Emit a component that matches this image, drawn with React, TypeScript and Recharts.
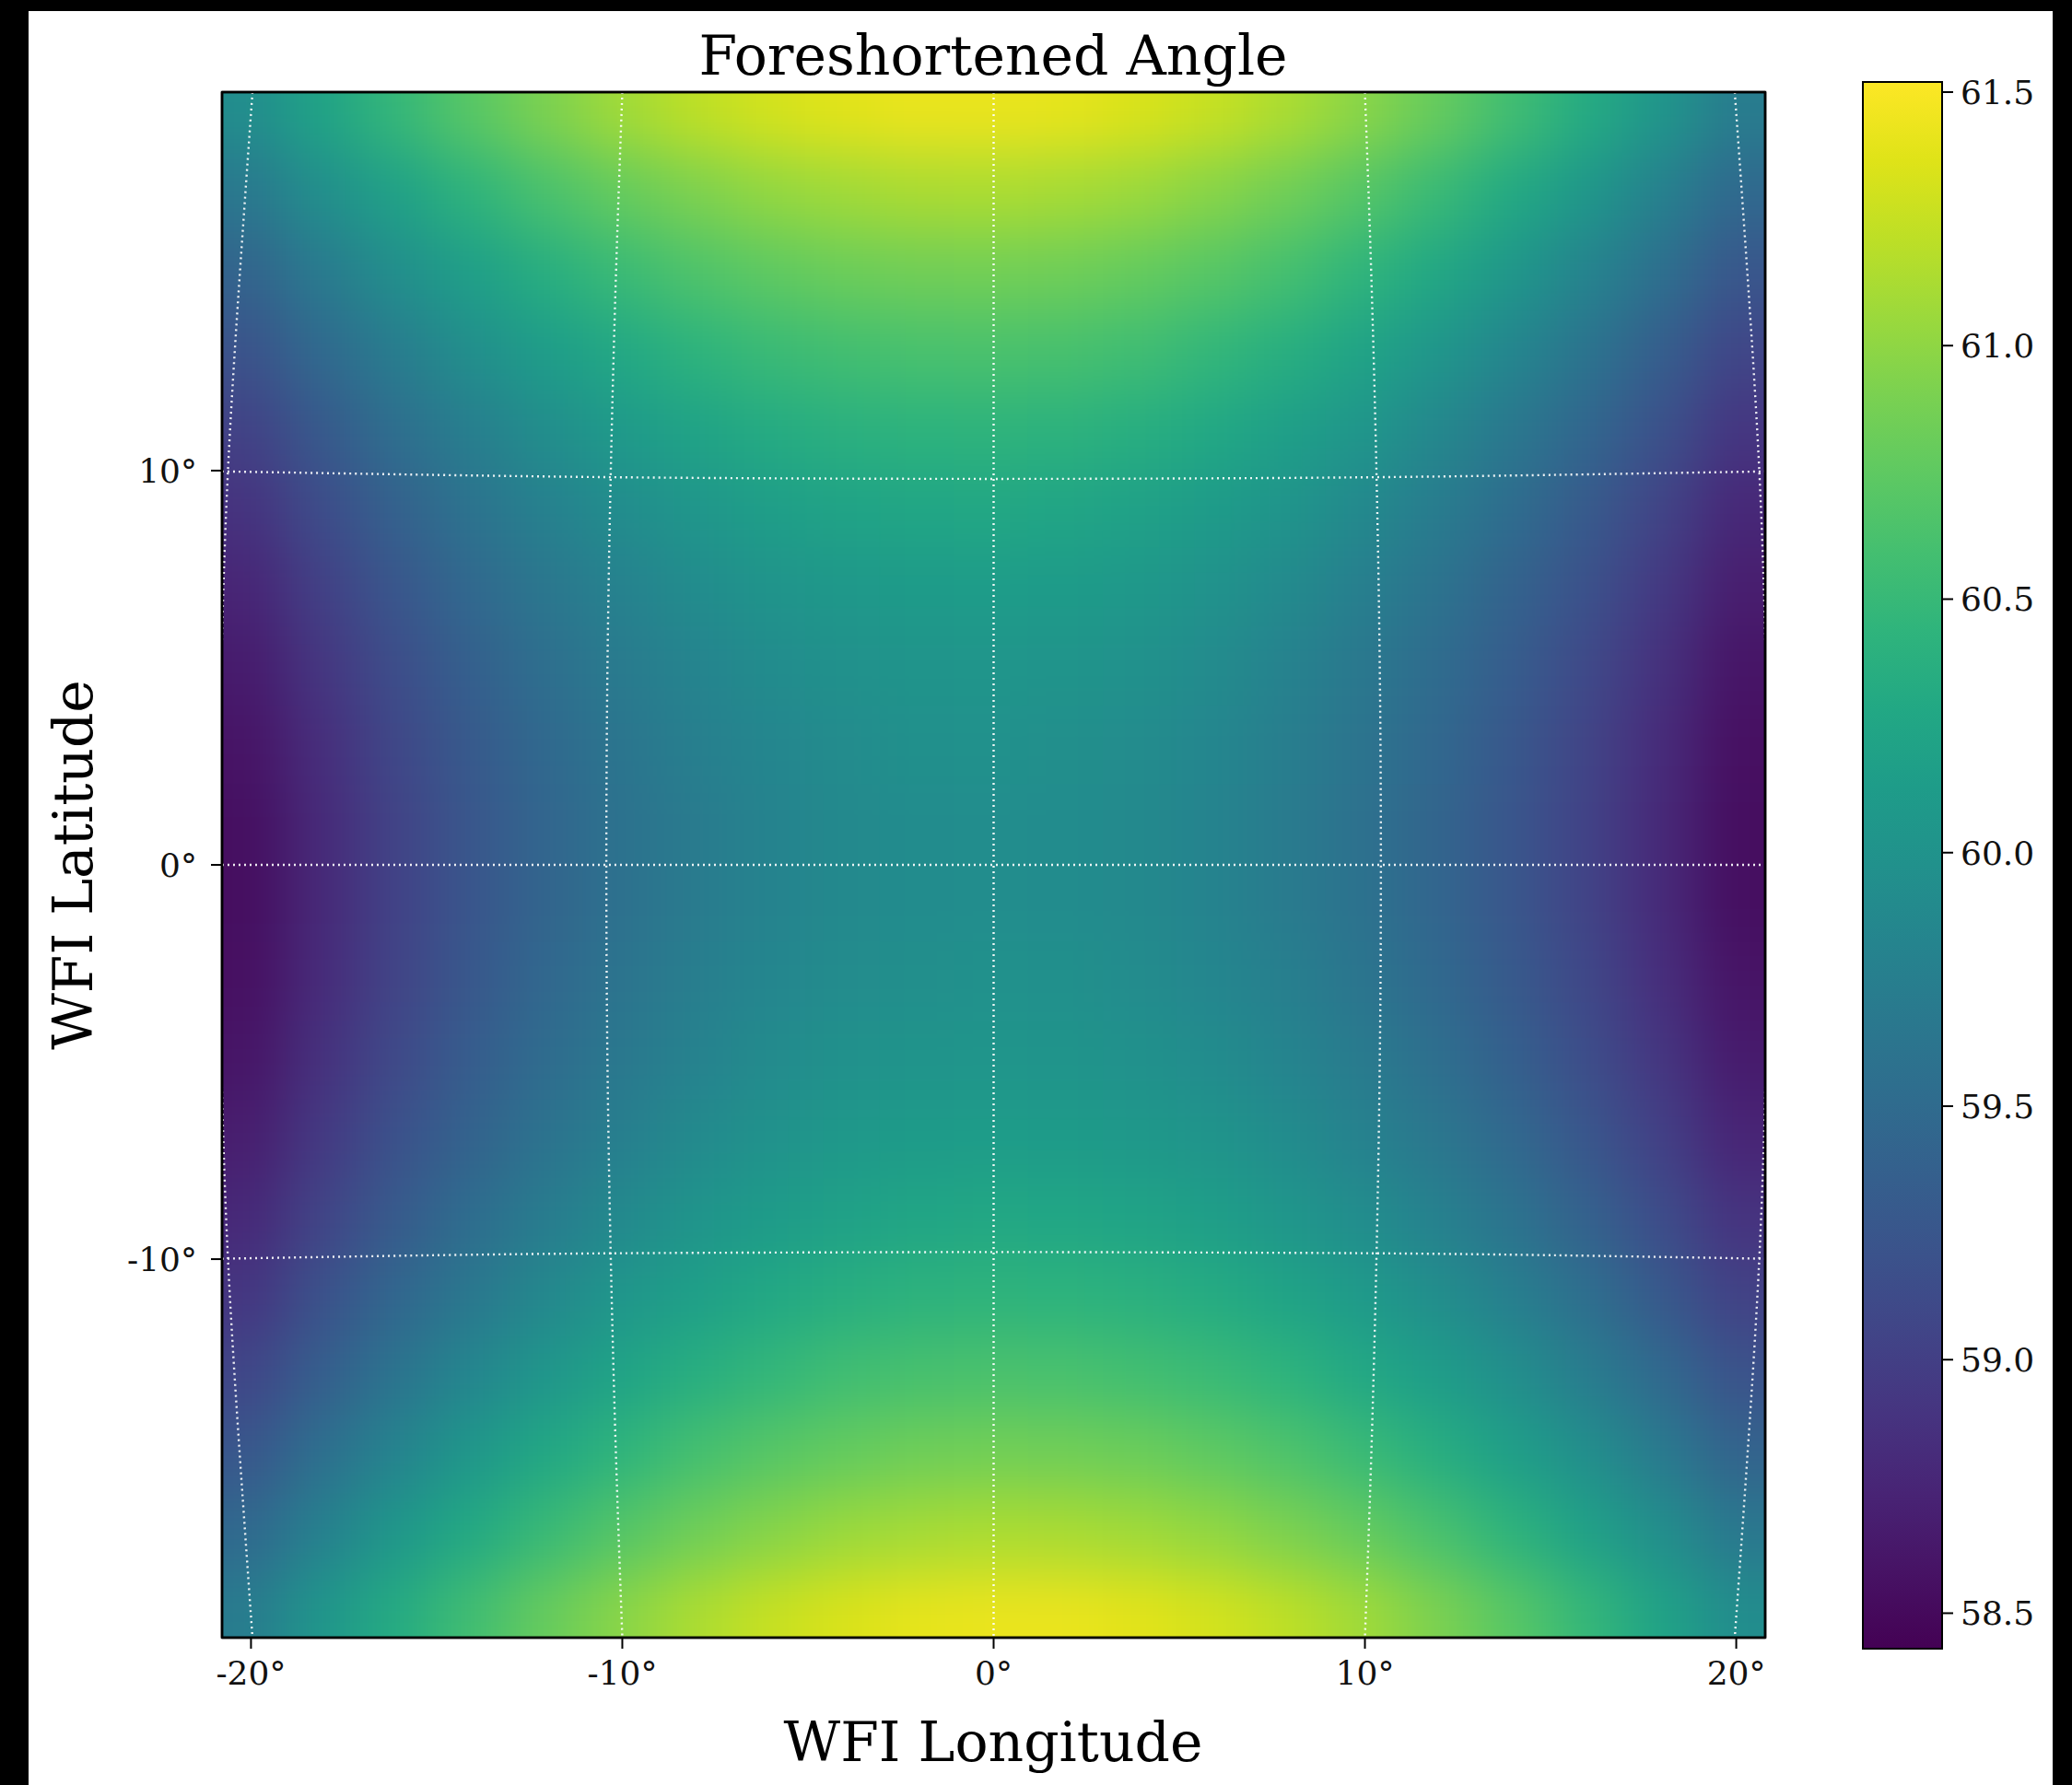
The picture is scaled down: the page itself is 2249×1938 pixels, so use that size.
import React from 'react';
import { ComposedChart, Scatter, Line, XAxis, YAxis, ReferenceArea } from 'recharts';

// ---------------- data ----------------
const X_DOMAIN: [number, number] = [-20.78, 20.78];
const Y_DOMAIN: [number, number] = [-19.6, 19.6];
const X_TICKS = [-20, -10, 0, 10, 20];
const Y_TICKS = [-10, 0, 10];
const CB_DOMAIN: [number, number] = [58.43, 61.52];
const CB_TICKS = [58.5, 59.0, 59.5, 60.0, 60.5, 61.0, 61.5];

const X_COLS = [-20, -18, -16, -14, -12, -10, -8, -6, -4, -2, 0, 2, 4, 6, 8, 10, 12, 14, 16, 18, 20];
const Y_ROWS = [19, 17, 15, 13, 11, 9, 7, 5, 3, 1, -1, -3, -5, -7, -9, -11, -13, -15, -17, -19];

const ROW_P19 = [59.93, 60.22, 60.48, 60.71, 60.91, 61.08, 61.21, 61.31, 61.38, 61.42, 61.42, 61.40, 61.34, 61.25, 61.13, 60.97, 60.79, 60.57, 60.32, 60.04, 59.72];
const ROW_P17 = [59.66, 59.95, 60.20, 60.43, 60.62, 60.78, 60.91, 61.01, 61.08, 61.12, 61.13, 61.10, 61.05, 60.96, 60.84, 60.69, 60.51, 60.30, 60.06, 59.78, 59.48];
const ROW_P15 = [59.42, 59.70, 59.95, 60.17, 60.36, 60.52, 60.65, 60.75, 60.82, 60.85, 60.86, 60.84, 60.78, 60.70, 60.59, 60.44, 60.27, 60.06, 59.82, 59.56, 59.26];
const ROW_P13 = [59.21, 59.49, 59.73, 59.95, 60.14, 60.29, 60.42, 60.52, 60.58, 60.62, 60.63, 60.61, 60.56, 60.47, 60.36, 60.22, 60.05, 59.85, 59.62, 59.36, 59.07];
const ROW_P11 = [59.03, 59.30, 59.55, 59.76, 59.94, 60.10, 60.22, 60.32, 60.39, 60.42, 60.43, 60.41, 60.36, 60.28, 60.17, 60.04, 59.87, 59.67, 59.45, 59.20, 58.91];
const ROW_P9 = [58.88, 59.15, 59.39, 59.60, 59.78, 59.93, 60.05, 60.15, 60.22, 60.26, 60.27, 60.25, 60.20, 60.12, 60.02, 59.88, 59.72, 59.53, 59.31, 59.06, 58.78];
const ROW_P7 = [58.75, 59.02, 59.26, 59.47, 59.65, 59.80, 59.92, 60.02, 60.08, 60.12, 60.13, 60.12, 60.07, 59.99, 59.89, 59.76, 59.60, 59.41, 59.20, 58.95, 58.68];
const ROW_P5 = [58.66, 58.92, 59.16, 59.37, 59.55, 59.70, 59.82, 59.92, 59.98, 60.02, 60.03, 60.02, 59.97, 59.90, 59.80, 59.67, 59.51, 59.33, 59.11, 58.87, 58.60];
const ROW_P3 = [58.59, 58.85, 59.09, 59.30, 59.48, 59.63, 59.75, 59.85, 59.91, 59.96, 59.97, 59.95, 59.91, 59.84, 59.74, 59.61, 59.46, 59.27, 59.06, 58.82, 58.56];
const ROW_P1 = [58.55, 58.81, 59.05, 59.26, 59.44, 59.59, 59.71, 59.81, 59.88, 59.92, 59.93, 59.92, 59.88, 59.81, 59.71, 59.58, 59.43, 59.25, 59.04, 58.80, 58.54];
const ROW_M1 = [58.54, 58.80, 59.04, 59.25, 59.43, 59.58, 59.71, 59.81, 59.88, 59.92, 59.93, 59.92, 59.88, 59.81, 59.71, 59.59, 59.44, 59.26, 59.05, 58.81, 58.55];
const ROW_M3 = [58.56, 58.82, 59.06, 59.27, 59.46, 59.61, 59.74, 59.84, 59.91, 59.95, 59.97, 59.96, 59.91, 59.85, 59.75, 59.63, 59.48, 59.30, 59.09, 58.85, 58.59];
const ROW_M5 = [58.60, 58.87, 59.11, 59.33, 59.51, 59.67, 59.80, 59.90, 59.97, 60.02, 60.03, 60.02, 59.98, 59.92, 59.82, 59.70, 59.55, 59.37, 59.16, 58.92, 58.66];
const ROW_M7 = [58.68, 58.95, 59.20, 59.41, 59.60, 59.76, 59.89, 59.99, 60.07, 60.12, 60.13, 60.12, 60.08, 60.02, 59.92, 59.80, 59.65, 59.47, 59.26, 59.02, 58.75];
const ROW_M9 = [58.78, 59.06, 59.31, 59.53, 59.72, 59.88, 60.02, 60.12, 60.20, 60.25, 60.27, 60.26, 60.22, 60.15, 60.05, 59.93, 59.78, 59.60, 59.39, 59.15, 58.88];
const ROW_M11 = [58.91, 59.20, 59.45, 59.67, 59.87, 60.04, 60.17, 60.28, 60.36, 60.41, 60.43, 60.42, 60.39, 60.32, 60.22, 60.10, 59.94, 59.76, 59.55, 59.30, 59.03];
const ROW_M13 = [59.07, 59.36, 59.62, 59.85, 60.05, 60.22, 60.36, 60.47, 60.56, 60.61, 60.63, 60.62, 60.58, 60.52, 60.42, 60.29, 60.14, 59.95, 59.73, 59.49, 59.21];
const ROW_M15 = [59.26, 59.56, 59.82, 60.06, 60.27, 60.44, 60.59, 60.70, 60.78, 60.84, 60.86, 60.85, 60.82, 60.75, 60.65, 60.52, 60.36, 60.17, 59.95, 59.70, 59.42];
const ROW_M17 = [59.48, 59.78, 60.06, 60.30, 60.51, 60.69, 60.84, 60.96, 61.05, 61.10, 61.13, 61.12, 61.08, 61.01, 60.91, 60.78, 60.62, 60.43, 60.20, 59.95, 59.66];
const ROW_M19 = [59.72, 60.04, 60.32, 60.57, 60.79, 60.97, 61.13, 61.25, 61.34, 61.40, 61.42, 61.42, 61.38, 61.31, 61.21, 61.08, 60.91, 60.71, 60.48, 60.22, 59.93];

const HEAT_ROWS = [
  ROW_P19, ROW_P17, ROW_P15, ROW_P13, ROW_P11, ROW_P9, ROW_P7, ROW_P5, ROW_P3, ROW_P1,
  ROW_M1, ROW_M3, ROW_M5, ROW_M7, ROW_M9, ROW_M11, ROW_M13, ROW_M15, ROW_M17, ROW_M19,
];

// graticule lines (read in axis coordinates)
const MERIDIAN_M20 = [
  { x: -19.96, y: 19.6 }, { x: -20.3, y: 15 }, { x: -20.62, y: 10 }, { x: -20.8, y: 5 }, { x: -20.86, y: 0 },
  { x: -20.8, y: -5 }, { x: -20.62, y: -10 }, { x: -20.3, y: -15 }, { x: -19.96, y: -19.6 },
];
const MERIDIAN_M10 = [
  { x: -10.0, y: 19.6 }, { x: -10.17, y: 15 }, { x: -10.31, y: 10 }, { x: -10.4, y: 5 }, { x: -10.43, y: 0 },
  { x: -10.4, y: -5 }, { x: -10.31, y: -10 }, { x: -10.17, y: -15 }, { x: -10.0, y: -19.6 },
];
const MERIDIAN_0 = [{ x: 0, y: 19.6 }, { x: 0, y: -19.6 }];
const MERIDIAN_P10 = [
  { x: 10.0, y: 19.6 }, { x: 10.17, y: 15 }, { x: 10.31, y: 10 }, { x: 10.4, y: 5 }, { x: 10.43, y: 0 },
  { x: 10.4, y: -5 }, { x: 10.31, y: -10 }, { x: 10.17, y: -15 }, { x: 10.0, y: -19.6 },
];
const MERIDIAN_P20 = [
  { x: 19.96, y: 19.6 }, { x: 20.3, y: 15 }, { x: 20.62, y: 10 }, { x: 20.8, y: 5 }, { x: 20.86, y: 0 },
  { x: 20.8, y: -5 }, { x: 20.62, y: -10 }, { x: 20.3, y: -15 }, { x: 19.96, y: -19.6 },
];
const PARALLEL_P10 = [
  { x: -20.78, y: 9.98 }, { x: -15, y: 9.89 }, { x: -10, y: 9.83 }, { x: -5, y: 9.8 }, { x: 0, y: 9.79 },
  { x: 5, y: 9.8 }, { x: 10, y: 9.83 }, { x: 15, y: 9.89 }, { x: 20.78, y: 9.98 },
];
const PARALLEL_0 = [{ x: -20.78, y: 0 }, { x: 20.78, y: 0 }];
const PARALLEL_M10 = [
  { x: -20.78, y: -9.99 }, { x: -15, y: -9.9 }, { x: -10, y: -9.85 }, { x: -5, y: -9.83 }, { x: 0, y: -9.82 },
  { x: 5, y: -9.83 }, { x: 10, y: -9.85 }, { x: 15, y: -9.9 }, { x: 20.78, y: -9.99 },
];
const GRATICULE = [MERIDIAN_M20, MERIDIAN_M10, MERIDIAN_0, MERIDIAN_P10, MERIDIAN_P20, PARALLEL_P10, PARALLEL_0, PARALLEL_M10];

const HEAT = HEAT_ROWS.flatMap((row, i) => row.map((v, j) => ({ x: X_COLS[j], y: Y_ROWS[i], v })));

// ---------------- styling ----------------
const W = 2249;
const H = 1938;
const FONT = "'DejaVu Serif', serif";
const TEXT = '#111';
const CELL_W = 86;
const CELL_H = 90;
const EXT = 170;

const VIRIDIS = [
  '#440154', '#471365', '#482475', '#463480', '#414487', '#3b528b', '#355f8d', '#2f6c8e', '#2a788e', '#25848e',
  '#21918c', '#1e9c89', '#22a884', '#2fb47c', '#44bf70', '#5ec962', '#7ad151', '#9bd93c', '#bddf26', '#dfe318', '#fde725',
];

const hexToRgb = (h: string) => [parseInt(h.slice(1, 3), 16), parseInt(h.slice(3, 5), 16), parseInt(h.slice(5, 7), 16)];
const VIR_RGB = VIRIDIS.map(hexToRgb);

function viridis(v: number) {
  let t = (v - CB_DOMAIN[0]) / (CB_DOMAIN[1] - CB_DOMAIN[0]);
  t = Math.max(0, Math.min(1, t));
  const p = t * (VIR_RGB.length - 1);
  const i = Math.min(Math.floor(p), VIR_RGB.length - 2);
  const f = p - i;
  const a = VIR_RGB[i];
  const b = VIR_RGB[i + 1];
  const c = a.map((ai, k) => Math.round(ai + (b[k] - ai) * f));
  return `rgb(${c[0]},${c[1]},${c[2]})`;
}

const deg = (v: number) => `${v}°`;

const renderCell = (p: any) => {
  const { cx, cy, payload } = p;
  if (cx == null || cy == null || !payload) return <g />;
  let x0 = cx - CELL_W / 2;
  let x1 = cx + CELL_W / 2;
  let y0 = cy - CELL_H / 2;
  let y1 = cy + CELL_H / 2;
  if (payload.x === X_COLS[0]) x0 -= EXT;
  if (payload.x === X_COLS[X_COLS.length - 1]) x1 += EXT;
  if (payload.y === Y_ROWS[0]) y0 -= EXT;
  if (payload.y === Y_ROWS[Y_ROWS.length - 1]) y1 += EXT;
  return <rect x={x0} y={y0} width={x1 - x0} height={y1 - y0} fill={viridis(payload.v)} stroke="none" />;
};

const tickStyle = { fontFamily: FONT, fontSize: 36, fill: TEXT };
const tickLineStyle = { stroke: '#000', strokeWidth: 2 };
const axisLineStyle = { stroke: '#000', strokeWidth: 2.5 };

const CB_PAD = 24;

export default function App() {
  return (
    <div style={{ position: 'absolute', left: 0, top: 0, width: W, height: H, background: '#fff', overflow: 'hidden' }}>
      <style>{`.heat-layer { filter: url(#heatBlur); }`}</style>
      <svg width={0} height={0} style={{ position: 'absolute', left: 0, top: 0 }}>
        <defs>
          <filter id="heatBlur" x="-10%" y="-10%" width="120%" height="120%" colorInterpolationFilters="sRGB">
            <feGaussianBlur stdDeviation={30} />
          </filter>
          <linearGradient id="cbGrad" x1="0" y1="0" x2="0" y2="1">
            {VIRIDIS.map((_, i) => (
              <stop key={i} offset={`${(i / (VIRIDIS.length - 1)) * 100}%`} stopColor={VIRIDIS[VIRIDIS.length - 1 - i]} />
            ))}
          </linearGradient>
        </defs>
      </svg>

      <div style={{ position: 'absolute', left: 0, top: 0 }}>
        <ComposedChart width={W} height={H} margin={{ top: 80, right: 313, bottom: 100, left: 161 }}>
          <XAxis
            xAxisId="b"
            dataKey="x"
            type="number"
            domain={X_DOMAIN}
            allowDataOverflow
            ticks={X_TICKS}
            interval={0}
            tickFormatter={deg}
            height={60}
            tickSize={12}
            tickMargin={13}
            tick={tickStyle}
            tickLine={tickLineStyle}
            axisLine={axisLineStyle}
            label={() => (
              <text x={1078} y={1912} textAnchor="middle" fontFamily={FONT} fontSize={60} fill="#000">
                WFI Longitude
              </text>
            )}
          />
          <XAxis
            xAxisId="t"
            orientation="top"
            type="number"
            domain={X_DOMAIN}
            allowDataOverflow
            ticks={X_TICKS}
            interval={0}
            height={20}
            tickSize={12}
            tick={false}
            tickLine={tickLineStyle}
            axisLine={axisLineStyle}
            label={() => (
              <text x={1078} y={81} textAnchor="middle" fontFamily={FONT} fontSize={60} fill="#000">
                Foreshortened Angle
              </text>
            )}
          />
          <YAxis
            yAxisId="l"
            dataKey="y"
            type="number"
            domain={Y_DOMAIN}
            allowDataOverflow
            ticks={Y_TICKS}
            interval={0}
            tickFormatter={deg}
            width={80}
            tickSize={12}
            tickMargin={15}
            tick={tickStyle}
            tickLine={tickLineStyle}
            axisLine={axisLineStyle}
            label={() => (
              <text
                x={100}
                y={939}
                transform="rotate(-90 100 939)"
                textAnchor="middle"
                fontFamily={FONT}
                fontSize={60}
                fill="#000"
              >
                WFI Latitude
              </text>
            )}
          />
          <YAxis
            yAxisId="r"
            orientation="right"
            type="number"
            domain={Y_DOMAIN}
            allowDataOverflow
            ticks={Y_TICKS}
            interval={0}
            width={20}
            tickSize={12}
            tick={false}
            tickLine={tickLineStyle}
            axisLine={axisLineStyle}
          />
          <Scatter
            xAxisId="b"
            yAxisId="l"
            data={HEAT}
            shape={renderCell}
            className="heat-layer"
            isAnimationActive={false}
            zIndex={10}
          />
          {GRATICULE.map((g, i) => (
            <Line
              key={i}
              xAxisId="b"
              yAxisId="l"
              data={g}
              dataKey="y"
              type="natural"
              stroke="#ffffff"
              strokeOpacity={0.92}
              strokeWidth={2.4}
              strokeDasharray="2 4"
              dot={false}
              activeDot={false}
              isAnimationActive={false}
              zIndex={700}
            />
          ))}
          <ReferenceArea
            xAxisId="b"
            yAxisId="l"
            x1={X_DOMAIN[0]}
            x2={X_DOMAIN[1]}
            y1={Y_DOMAIN[0]}
            y2={Y_DOMAIN[1]}
            fill="none"
            fillOpacity={0}
            stroke="#000"
            strokeWidth={2.5}
            ifOverflow="visible"
            zIndex={900}
          />
        </ComposedChart>
      </div>

      {/* colorbar */}
      <div style={{ position: 'absolute', left: 2018, top: 89 - CB_PAD }}>
        <ComposedChart
          width={210}
          height={1701 + 2 * CB_PAD}
          margin={{ top: CB_PAD, right: 4, bottom: CB_PAD, left: 4 }}
          data={[{ x: 0 }, { x: 1 }]}
        >
          <XAxis xAxisId="cb" dataKey="x" type="number" domain={[0, 1]} hide />
          <YAxis
            yAxisId="cb"
            orientation="right"
            type="number"
            domain={CB_DOMAIN}
            allowDataOverflow
            ticks={CB_TICKS}
            interval={0}
            tickFormatter={(v: number) => v.toFixed(1)}
            width={116}
            tickSize={12}
            tickMargin={8}
            tick={tickStyle}
            tickLine={tickLineStyle}
            axisLine={false}
          />
          <ReferenceArea
            xAxisId="cb"
            yAxisId="cb"
            x1={0}
            x2={1}
            y1={CB_DOMAIN[0]}
            y2={CB_DOMAIN[1]}
            fill="url(#cbGrad)"
            fillOpacity={1}
            stroke="#000"
            strokeWidth={2}
            ifOverflow="visible"
          />
        </ComposedChart>
      </div>

      {/* dark frame bands of the original screenshot */}
      <div style={{ position: 'absolute', left: 0, top: 0, width: W, height: 12, background: '#000' }} />
      <div style={{ position: 'absolute', left: 0, top: 0, width: 31, height: H, background: '#000' }} />
      <div style={{ position: 'absolute', left: 2228, top: 0, width: W - 2228, height: H, background: '#000' }} />
    </div>
  );
}
